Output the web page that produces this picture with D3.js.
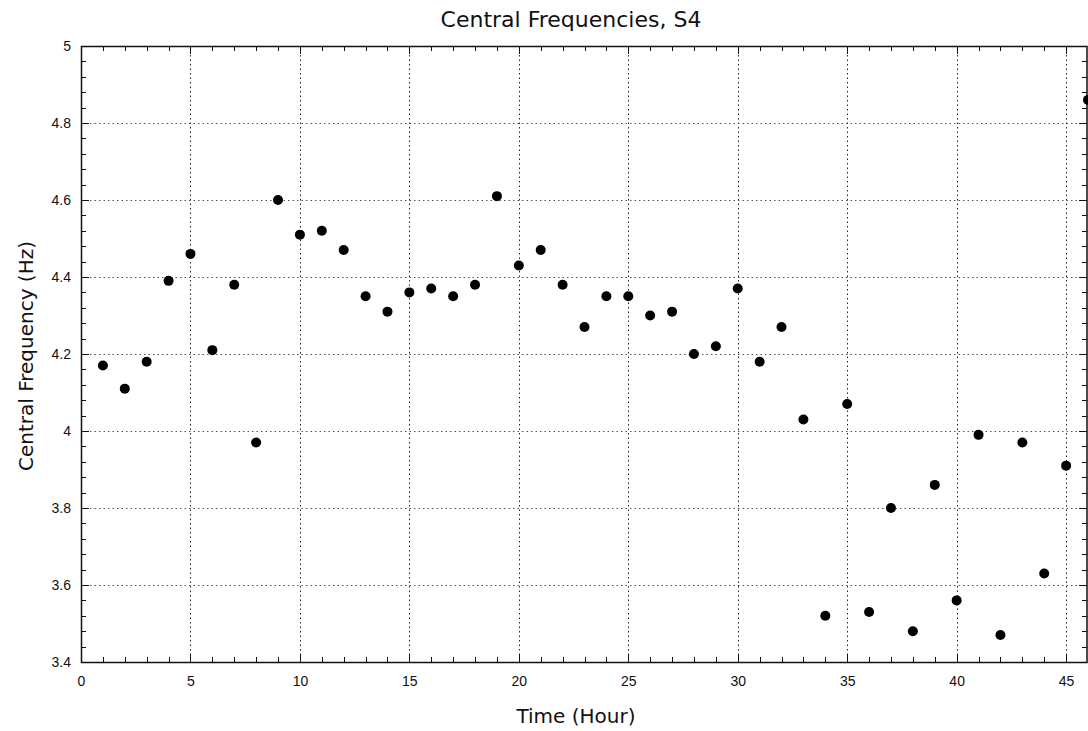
<!DOCTYPE html>
<html><head><meta charset="utf-8">
<script src="https://cdn.jsdelivr.net/npm/d3@7"></script>
<style>body{margin:0;background:#fff}svg{display:block}</style>
</head><body>
<svg id="c" width="1088" height="731"></svg>
<script>
const hours = [1,2,3,4,5,6,7,8,9,10,11,12,13,14,15,16,17,18,19,20,21,22,23,24,25,26,27,28,29,30,31,32,33,34,35,36,37,38,39,40,41,42,43,44,45,46];
const freqs = [4.17,4.11,4.18,4.39,4.46,4.21,4.38,3.97,4.60,4.51,4.52,4.47,4.35,4.31,4.36,4.37,4.35,4.38,4.61,4.43,4.47,4.38,4.27,4.35,4.35,4.30,4.31,4.20,4.22,4.37,4.18,4.27,4.03,3.52,4.07,3.53,3.80,3.48,3.86,3.56,3.99,3.47,3.97,3.63,3.91,4.86];
const xTicks = [0,5,10,15,20,25,30,35,40,45];
const yTicks = [3.4,3.6,3.8,4.0,4.2,4.4,4.6,4.8,5.0];
const titleText = "Central Frequencies, S4";
const xLabel = "Time (Hour)";
const yLabel = "Central Frequency (Hz)";

const L = 81, R = 1088, T = 46, B = 662;
const svg = d3.select("#c");
const x = d3.scaleLinear().domain([0,46]).range([L,R]);
const y = d3.scaleLinear().domain([3.4,5]).range([B,T]);

// grid
const g = svg.append("g");
g.selectAll(".gx").data(xTicks.filter(d=>d>0)).join("line")
  .attr("x1",d=>Math.round(x(d))+0.5).attr("x2",d=>Math.round(x(d))+0.5)
  .attr("y1",T).attr("y2",B).attr("stroke","#222").attr("stroke-width",1).attr("stroke-dasharray","1.5,3");
g.selectAll(".gy").data(yTicks.filter(d=>d>3.4&&d<5)).join("line")
  .attr("y1",d=>Math.round(y(d))+0.5).attr("y2",d=>Math.round(y(d))+0.5)
  .attr("x1",L).attr("x2",R).attr("stroke","#555").attr("stroke-width",1).attr("stroke-dasharray","1.5,3");

// minor/major ticks inward, all sides
const xMinor = d3.range(0,47,1);
const yMinor = d3.range(0,41).map(i=>3.4+i*0.04);
const tk = svg.append("g").attr("stroke","#111").attr("stroke-width",1);
xMinor.forEach(v=>{
  const len = (v%5===0)?8:5;
  const px = Math.round(x(v))+0.5;
  tk.append("line").attr("x1",px).attr("x2",px).attr("y1",B).attr("y2",B-len);
  tk.append("line").attr("x1",px).attr("x2",px).attr("y1",T).attr("y2",T+len);
});
yMinor.forEach((v,i)=>{
  const len = (i%5===0)?8:5;
  const py = Math.round(y(v))+0.5;
  tk.append("line").attr("y1",py).attr("y2",py).attr("x1",L).attr("x2",L+len);
  tk.append("line").attr("y1",py).attr("y2",py).attr("x1",R-1).attr("x2",R-1-len);
});

// frame
svg.append("rect").attr("x",L+0.5).attr("y",T+0.5).attr("width",R-L-1.5).attr("height",B-T)
  .attr("fill","none").attr("stroke","#111").attr("stroke-width",1.5);

// axes labels via d3 axes (text only)
const xa = svg.append("g").attr("transform",`translate(0,${B})`)
  .call(d3.axisBottom(x).tickValues(xTicks).tickSize(0).tickPadding(14).tickFormat(d3.format("d")));
xa.select(".domain").remove();
xa.selectAll("text").attr("font-family","Liberation Sans, Arial, sans-serif").attr("font-size",14).attr("fill","#111");
const ya = svg.append("g").attr("transform",`translate(${L},0)`)
  .call(d3.axisLeft(y).tickValues(yTicks).tickSize(0).tickPadding(10).tickFormat(d=>d3.format("")(+d.toFixed(1))));
ya.select(".domain").remove();
ya.selectAll("text").attr("font-family","Liberation Sans, Arial, sans-serif").attr("font-size",14).attr("fill","#111");

// points
svg.append("defs").append("clipPath").attr("id","clip").append("rect").attr("x",L).attr("y",T).attr("width",R-L).attr("height",B-T);
svg.append("g").attr("clip-path","url(#clip)").selectAll("circle").data(hours).join("circle")
  .attr("cx",(d)=>x(d)).attr("cy",(d,i)=>y(freqs[i])).attr("r",5).attr("fill","#000");

// titles
svg.append("text").attr("x",571).attr("y",27).attr("text-anchor","middle")
  .attr("font-family","DejaVu Sans").attr("font-size",22).attr("fill","#111").text(titleText);
svg.append("text").attr("x",576).attr("y",723).attr("text-anchor","middle")
  .attr("font-family","DejaVu Sans").attr("font-size",20).attr("fill","#111").text(xLabel);
svg.append("text").attr("transform","translate(33,356) rotate(-90)").attr("text-anchor","middle")
  .attr("font-family","DejaVu Sans").attr("font-size",20).attr("fill","#111").text(yLabel);
</script>
</body></html>
